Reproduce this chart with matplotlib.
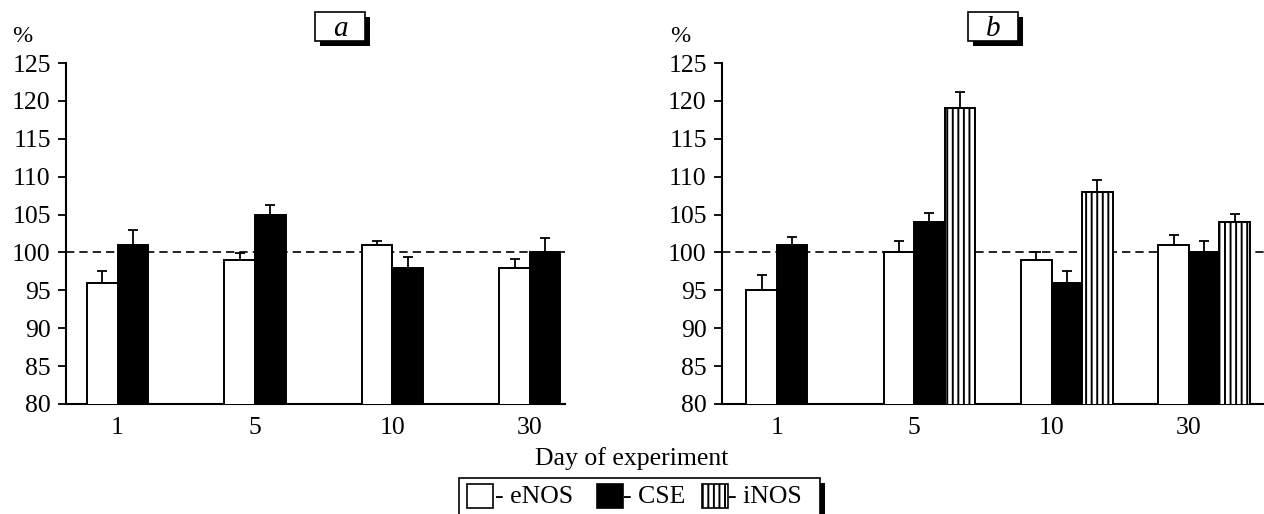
import numpy as np
import matplotlib
matplotlib.use("Agg")
import matplotlib.pyplot as plt
from matplotlib.patches import Rectangle

plt.rcParams['font.family'] = ['Liberation Serif', 'DejaVu Serif']
plt.rcParams['hatch.linewidth'] = 1.4

days = ['1', '5', '10', '30']
series = ['eNOS', 'CSE', 'iNOS']

a_enos = [96, 99, 101, 98]
a_enos_err = [1.5, 0.9, 0.5, 1.1]
a_cse = [101, 105, 98, 100]
a_cse_err = [2.0, 1.3, 1.4, 1.9]

b_enos = [95, 100, 99, 101]
b_enos_err = [2.0, 1.5, 1.1, 1.3]
b_cse = [101, 104, 96, 100]
b_cse_err = [1.1, 1.2, 1.5, 1.5]
b_inos = [np.nan, 119, 108, 104]
b_inos_err = [np.nan, 2.2, 1.6, 1.1]

yticks = [80, 85, 90, 95, 100, 105, 110, 115, 120, 125]

FS = 18.5
W, H = 1264, 514
fig = plt.figure(figsize=(W / 100, H / 100), dpi=100)

def fx(px):
    return px / W

def fy(py):
    return 1 - py / H

ax_a = fig.add_axes([fx(66), fy(404), fx(565) - fx(66), fy(63) - fy(404)])
ax_b = fig.add_axes([fx(722), fy(404), fx(1264) - fx(722), fy(63) - fy(404)])

bw = 0.222
styles = {
    'eNOS': dict(color='white', hatch=None),
    'CSE': dict(color='black', hatch=None),
    'iNOS': dict(color='white', hatch='|||'),
}

def draw(ax, data, xlim):
    x = np.arange(len(days))
    for k, (name, vals, errs) in enumerate(data):
        st = styles[name]
        left = x - bw + k * bw
        vals = np.array(vals, dtype=float)
        errs = np.array(errs, dtype=float)
        ax.bar(left, vals, width=bw, align='edge', bottom=0,
               color=st['color'], edgecolor='black', linewidth=1.4,
               hatch=st['hatch'], zorder=3)
        ax.errorbar(left + bw / 2, vals, yerr=[np.zeros_like(errs), errs],
                    fmt='none', ecolor='black', elinewidth=1.3,
                    capsize=3.8, capthick=1.3, zorder=4)
    ax.axhline(100, color='black', linestyle=(0, (5, 3)), linewidth=1.2, zorder=2)
    ax.set_ylim(80, 125)
    ax.set_xlim(*xlim)
    ax.set_yticks(yticks)
    ax.set_xticks(x)
    ax.set_xticklabels(days)
    ax.tick_params(axis='x', length=0, labelsize=FS, pad=9)
    ax.tick_params(axis='y', length=6, width=1.3, labelsize=FS, pad=5, direction='out')
    for s in ['top', 'right']:
        ax.spines[s].set_visible(False)
    for s in ['left', 'bottom']:
        ax.spines[s].set_linewidth(1.5)
    ax.patch.set_alpha(0)

draw(ax_a, [('eNOS', a_enos, a_enos_err), ('CSE', a_cse, a_cse_err)], (-0.375, 3.255))
draw(ax_b, [('eNOS', b_enos, b_enos_err), ('CSE', b_cse, b_cse_err),
            ('iNOS', b_inos, b_inos_err)], (-0.40, 3.547))

# "%" labels
fig.text(fx(22), fy(37), '%', fontsize=FS - 1, ha='center', va='center')
fig.text(fx(680), fy(37), '%', fontsize=FS - 1, ha='center', va='center')

# panel title boxes with shadow
def title_box(x0, x1, y0, y1, label):
    off = 5
    fig.add_artist(Rectangle((fx(x0 + off), fy(y1 + off)), fx(x1 - x0), fy(y0) - fy(y1),
                             transform=fig.transFigure, facecolor='black', edgecolor='black', lw=0))
    fig.add_artist(Rectangle((fx(x0), fy(y1)), fx(x1 - x0), fy(y0) - fy(y1),
                             transform=fig.transFigure, facecolor='white', edgecolor='black', lw=1.2))
    fig.text(fx((x0 + x1) / 2), fy((y0 + y1) / 2 + 2), label, fontsize=21, style='italic',
             ha='center', va='center')

title_box(315, 365, 12, 41, 'a')
title_box(968, 1018, 12, 41, 'b')

fig.text(fx(632), fy(459), 'Day of experiment', fontsize=FS, ha='center', va='center')

# legend box
lx0, lx1, ly0 = 459, 820, 478
fig.add_artist(Rectangle((fx(lx0 + 5), fy(530)), fx(lx1 - lx0), fy(ly0 + 5) - fy(530),
                         transform=fig.transFigure, facecolor='black', lw=0))
fig.add_artist(Rectangle((fx(lx0), fy(530)), fx(lx1 - lx0), fy(ly0) - fy(530),
                         transform=fig.transFigure, facecolor='white', edgecolor='black', lw=1.2))
items = [('eNOS', 467, 495), ('CSE', 597, 623), ('iNOS', 702, 728)]
for name, sx, tx in items:
    st = styles[name]
    fig.add_artist(Rectangle((fx(sx), fy(508)), fx(26), fy(484) - fy(508),
                             transform=fig.transFigure, facecolor=st['color'],
                             edgecolor='black', lw=1.2, hatch=st['hatch']))
    fig.text(fx(tx), fy(497), '- ' + name, fontsize=FS, ha='left', va='center')

fig.savefig('out.png', dpi=100)
